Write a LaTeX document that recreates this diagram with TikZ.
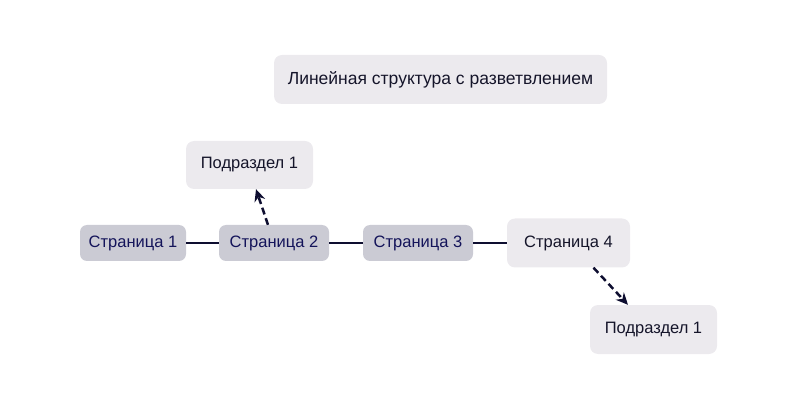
\documentclass[tikz,border=0pt]{standalone}
\usepackage{fontspec}
\setmainfont{Liberation Sans}
\usetikzlibrary{arrows.meta}
\definecolor{lightbox}{HTML}{ECEAEE}
\definecolor{darkbox}{HTML}{CBCBD4}
\definecolor{navytext}{HTML}{14145A}
\definecolor{blacktext}{HTML}{15152A}
\definecolor{linecol}{HTML}{0E0E30}
\tikzset{
  light/.style={fill=lightbox, rounded corners=8pt, text=blacktext, font=\fontsize{16.5}{19}\selectfont, inner sep=0pt},
  dark/.style={fill=darkbox, rounded corners=7pt, text=navytext, font=\fontsize{16.5}{19}\selectfont, inner sep=0pt, minimum width=106pt, minimum height=36pt},
  link/.style={draw=linecol, line width=2.5pt},
  dlink/.style={draw=linecol, line width=2.5pt, dash pattern=on 7pt off 4pt, -{Stealth[length=12pt,width=11pt]}}
}
\begin{document}
\begin{tikzpicture}[x=1pt,y=-1pt]
\useasboundingbox (0,0) rectangle (808,403);
\node[light, minimum width=333pt, minimum height=49pt, font=\fontsize{17.5}{20}\selectfont] (title) at (440.5,79.5) {Линейная структура с разветвлением};
\node[light, minimum width=127pt, minimum height=48pt] (sub1) at (249.5,165) {Подраздел 1};
\node[dark] (p1) at (133,243) {Страница 1};
\node[dark, minimum width=110pt] (p2) at (274,243) {Страница 2};
\node[dark, minimum width=110pt] (p3) at (418,243) {Страница 3};
\node[light, minimum width=123pt, minimum height=49pt] (p4) at (568.5,243) {Страница 4};
\node[light, minimum width=127pt, minimum height=49pt] (sub2) at (653.5,329.5) {Подраздел 1};
\draw[link] (p1) -- (p2);
\draw[link] (p2) -- (p3);
\draw[link] (p3.east) -- (p3.east -| p4.west);
\draw[dlink] ([xshift=-6pt]p2.north) -- ([xshift=6.5pt]sub1.south);
\draw[dlink] ([xshift=25pt]p4.south) -- ([xshift=-25.5pt]sub2.north);
\end{tikzpicture}
\end{document}
